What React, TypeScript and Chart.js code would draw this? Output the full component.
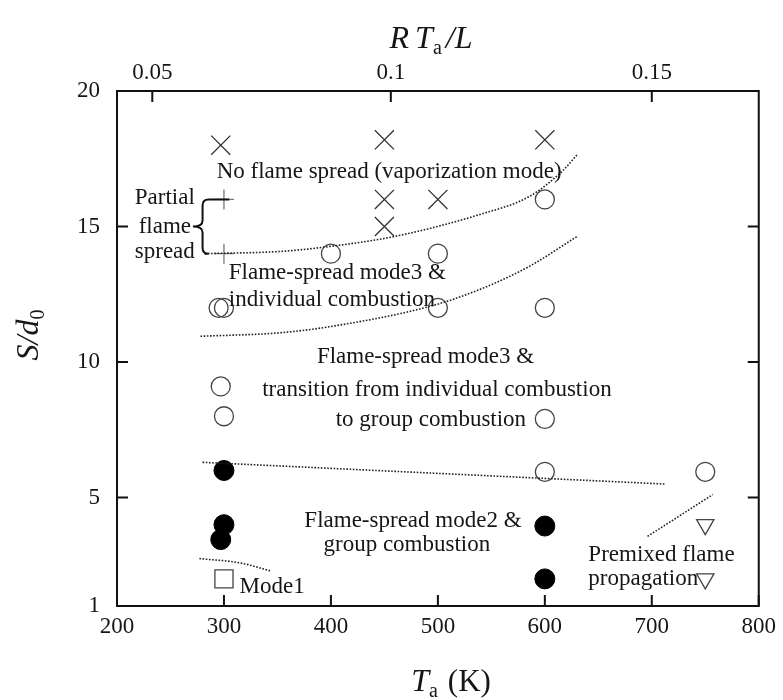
import React, { useEffect, useRef } from 'react';
import { Chart, registerables } from 'chart.js';

Chart.register(...registerables);

// ---- axis ticks ----
const xTicks = [200, 300, 400, 500, 600, 700, 800];
const yTicks = [1, 5, 10, 15, 20];
// top axis (RTa/L) tick positions expressed in Ta (K), and their labels
const topTickT = [233, 456, 700];
const topTickLabels = ['0.05', '0.1', '0.15'];

// ---- markers ----
const crossT = [297, 450, 600, 450, 500, 450];
const crossS = [18, 18.2, 18.2, 16, 16, 15];
const plusT = [300, 300];
const plusS = [16, 14];
const openT = [400, 500, 600, 295, 300, 500, 600, 297, 300, 600, 600, 750];
const openS = [14, 14, 16, 12, 12, 12, 12, 9.1, 8, 7.9, 5.95, 5.95];
const filledT = [300, 300, 297, 600, 600];
const filledS = [6, 4, 3.45, 3.95, 2];
const squareT = [300];
const squareS = [2];
const triT = [750, 750];
const triS = [4, 2];

// ---- dotted boundary lines ----
const upperT = [282, 352, 398, 459, 538, 585, 616, 630];
const upperS = [14.0, 14.08, 14.26, 14.63, 15.43, 16.1, 17.03, 17.64];
const middleT = [278, 352, 398, 492, 538, 585, 630];
const middleS = [10.95, 11.08, 11.3, 12.05, 12.66, 13.52, 14.63];
const sepT = [280, 712];
const sepS = [6.3, 5.5];
const mode1T = [277, 315, 344];
const mode1S = [2.75, 2.59, 2.29];
const premixT = [696, 757];
const premixS = [3.57, 5.11];

// ---- region labels (text, Ta, S/d0, align) ----
const labelTexts = [
  'No flame spread (vaporization mode)',
  'Partial', 'flame', 'spread',
  'Flame-spread mode3 &', 'individual combustion',
  'Flame-spread mode3 &', 'transition from individual combustion', 'to group combustion',
  'Flame-spread mode2 &', 'group combustion',
  'Premixed flame', 'propagation',
  'Mode1',
];
const labelT = [454.4, 244.7, 244.7, 244.7, 304.5, 304.5, 488.4, 499.1, 493.5, 476.7, 471, 640.7, 640.7, 314.6];
const labelS = [17.0, 16.06, 15.0, 14.08, 13.29, 12.3, 10.2, 8.98, 7.87, 4.125, 3.27, 2.9, 1.98, 1.72];
const labelAlign = ['center', 'center', 'center', 'center', 'left', 'left', 'center', 'center', 'center', 'center', 'center', 'left', 'left', 'left'];

const SERIF = "'Liberation Serif', 'Times New Roman', serif";
const TXT = '#161616';

const pts = (xs: number[], ys: number[]) => xs.map((x, i) => ({ x, y: ys[i] }));

type Run = { t: string; font: string; dy?: number; gap?: number };

function drawRuns(ctx: CanvasRenderingContext2D, runs: Run[], cx: number, baseY: number) {
  let total = 0;
  runs.forEach((r) => {
    ctx.font = r.font;
    total += ctx.measureText(r.t).width + (r.gap || 0);
  });
  let x = cx - total / 2;
  ctx.textAlign = 'left';
  ctx.textBaseline = 'alphabetic';
  runs.forEach((r) => {
    ctx.font = r.font;
    ctx.fillText(r.t, x, baseY + (r.dy || 0));
    x += ctx.measureText(r.t).width + (r.gap || 0);
  });
}

const decorPlugin = {
  id: 'decor',
  afterDatasetsDraw(chart: any) {
    const ctx: CanvasRenderingContext2D = chart.ctx;
    const xs = chart.scales.x;
    const ys = chart.scales.y;
    const px = (v: number) => xs.getPixelForValue(v);
    const py = (v: number) => ys.getPixelForValue(v);
    ctx.save();
    ctx.fillStyle = TXT;
    ctx.font = `23px ${SERIF}`;
    ctx.textBaseline = 'middle';
    labelTexts.forEach((t, i) => {
      ctx.textAlign = labelAlign[i] as CanvasTextAlign;
      ctx.fillText(t, px(labelT[i]), py(labelS[i]));
    });

    // curly brace for "Partial flame spread"
    const xb = px(280), xt = px(271), xe = px(305);
    const yTop = py(16), yMid = py(15), yBot = py(14);
    const r = 6;
    ctx.strokeStyle = '#111';
    ctx.lineWidth = 2;
    ctx.beginPath();
    ctx.moveTo(xe, yTop);
    ctx.lineTo(xb + r, yTop);
    ctx.quadraticCurveTo(xb, yTop, xb, yTop + r);
    ctx.lineTo(xb, yMid - r);
    ctx.quadraticCurveTo(xb, yMid, xt, yMid);
    ctx.quadraticCurveTo(xb, yMid, xb, yMid + r);
    ctx.lineTo(xb, yBot - r);
    ctx.quadraticCurveTo(xb, yBot, xb + r, yBot);
    ctx.lineTo(px(282), yBot);
    ctx.stroke();
    ctx.restore();
  },
  afterDraw(chart: any) {
    const ctx: CanvasRenderingContext2D = chart.ctx;
    const a = chart.chartArea;
    const xs = chart.scales.x;
    const ys = chart.scales.y;
    const tl = 11;
    ctx.save();
    ctx.strokeStyle = '#111';
    ctx.lineWidth = 2;
    ctx.strokeRect(a.left, a.top, a.right - a.left, a.bottom - a.top);
    ctx.beginPath();
    xTicks.forEach((v) => {
      const x = xs.getPixelForValue(v);
      ctx.moveTo(x, a.bottom);
      ctx.lineTo(x, a.bottom - tl);
    });
    topTickT.forEach((v) => {
      const x = xs.getPixelForValue(v);
      ctx.moveTo(x, a.top);
      ctx.lineTo(x, a.top + tl);
    });
    yTicks.forEach((v) => {
      const y = ys.getPixelForValue(v);
      ctx.moveTo(a.left, y);
      ctx.lineTo(a.left + tl, y);
      ctx.moveTo(a.right, y);
      ctx.lineTo(a.right - tl, y);
    });
    ctx.stroke();

    // axis titles
    ctx.fillStyle = TXT;
    const it = `italic 32px ${SERIF}`;
    const sub = `20px ${SERIF}`;
    drawRuns(ctx, [
      { t: 'R', font: it, gap: 6 },
      { t: 'T', font: it },
      { t: 'a', font: sub, dy: 6, gap: 4 },
      { t: '/', font: it },
      { t: 'L', font: it },
    ], 431, 48);
    drawRuns(ctx, [
      { t: 'T', font: it },
      { t: 'a', font: sub, dy: 6, gap: 10 },
      { t: '(K)', font: `31px ${SERIF}` },
    ], 451, 691);
    ctx.save();
    ctx.translate(38, 335);
    ctx.rotate(-Math.PI / 2);
    drawRuns(ctx, [
      { t: 'S', font: `italic 32px ${SERIF}` },
      { t: '/', font: `italic 32px ${SERIF}` },
      { t: 'd', font: `italic 32px ${SERIF}` },
      { t: '0', font: sub, dy: 6 },
    ], 0, 0);
    ctx.restore();
    ctx.restore();
  },
};

export default function App() {
  const ref = useRef<HTMLCanvasElement>(null);
  useEffect(() => {
    if (!ref.current) return;
    const tickFont = { family: SERIF, size: 23 };
    const lineDs = (xs: number[], ys: number[]) => ({
      data: pts(xs, ys),
      showLine: true,
      borderColor: '#222',
      borderWidth: 1.6,
      borderDash: [1.6, 1.6],
      pointRadius: 0,
      cubicInterpolationMode: 'monotone' as const,
      fill: false,
    });
    const chart = new Chart(ref.current, {
      type: 'scatter',
      data: {
        datasets: [
          lineDs(upperT, upperS),
          lineDs(middleT, middleS),
          lineDs(sepT, sepS),
          lineDs(mode1T, mode1S),
          lineDs(premixT, premixS),
          {
            data: pts(crossT, crossS),
            pointStyle: 'crossRot',
            pointRadius: 13.5,
            borderColor: '#333',
            borderWidth: 1.3,
          },
          {
            data: pts(plusT, plusS),
            pointStyle: 'cross',
            pointRadius: 10,
            borderColor: '#777',
            borderWidth: 1.3,
          },
          {
            data: pts(openT, openS),
            pointStyle: 'circle',
            pointRadius: 9.5,
            borderColor: '#444',
            backgroundColor: 'rgba(0,0,0,0)',
            borderWidth: 1.3,
          },
          {
            data: pts(filledT, filledS),
            pointStyle: 'circle',
            pointRadius: 10,
            borderColor: '#000',
            backgroundColor: '#000',
            borderWidth: 1,
          },
          {
            data: pts(squareT, squareS),
            pointStyle: 'rect',
            pointRadius: 12.8,
            borderColor: '#444',
            backgroundColor: 'rgba(0,0,0,0)',
            borderWidth: 1.3,
          },
          {
            data: pts(triT, triS),
            pointStyle: 'triangle',
            rotation: 180,
            pointRadius: 10,
            borderColor: '#444',
            backgroundColor: 'rgba(0,0,0,0)',
            borderWidth: 1.3,
          },
        ] as any,
      },
      options: {
        responsive: false,
        animation: false,
        layout: { padding: { left: 0, right: 22, top: 0, bottom: 0 } },
        plugins: { legend: { display: false }, tooltip: { enabled: false } },
        scales: {
          x: {
            type: 'linear',
            position: 'bottom',
            min: 200,
            max: 800,
            grid: { display: false, drawTicks: false },
            border: { display: false },
            ticks: { font: tickFont, color: TXT, padding: 7, maxRotation: 0, autoSkip: false },
            afterBuildTicks: (s: any) => { s.ticks = xTicks.map((v) => ({ value: v })); },
            afterFit: (s: any) => { s.height = 94; },
          },
          x2: {
            type: 'linear',
            position: 'top',
            min: 200,
            max: 800,
            grid: { display: false, drawTicks: false },
            border: { display: false },
            ticks: {
              font: tickFont,
              color: TXT,
              padding: 4,
              maxRotation: 0,
              autoSkip: false,
              callback: (_v: any, i: number) => topTickLabels[i],
            },
            afterBuildTicks: (s: any) => { s.ticks = topTickT.map((v) => ({ value: v })); },
            afterFit: (s: any) => { s.height = 91; },
          },
          y: {
            type: 'linear',
            position: 'left',
            min: 1,
            max: 20,
            grid: { display: false, drawTicks: false },
            border: { display: false },
            ticks: { font: tickFont, color: TXT, padding: 17, autoSkip: false },
            afterBuildTicks: (s: any) => { s.ticks = yTicks.map((v) => ({ value: v })); },
            afterFit: (s: any) => { s.width = 117; },
          },
        },
      } as any,
      plugins: [decorPlugin],
    });
    return () => chart.destroy();
  }, []);
  return (
    <div style={{ position: 'absolute', left: 0, top: 0, width: 783, height: 700, background: '#fff' }}>
      <canvas ref={ref} width={783} height={700} style={{ display: 'block' }} />
    </div>
  );
}
